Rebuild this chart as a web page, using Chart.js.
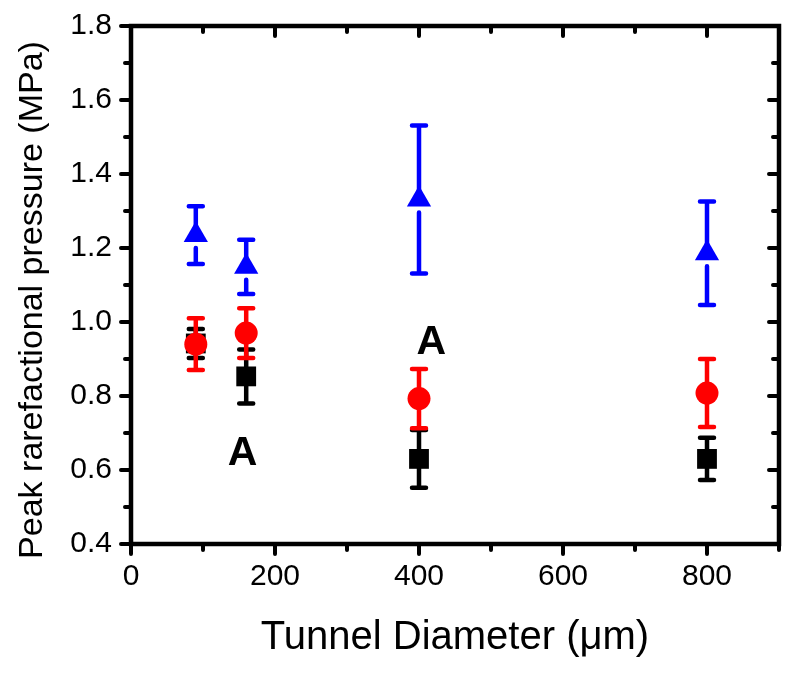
<!DOCTYPE html>
<html><head><meta charset="utf-8">
<script src="https://cdn.jsdelivr.net/npm/chart.js@4.4.1/dist/chart.umd.min.js"></script>
<style>html,body{margin:0;padding:0;background:#fff}canvas{display:block}</style>
</head><body>
<canvas id="c" width="800" height="673"></canvas>
<script>
// ---- data ----
const diameters = [90, 160, 400, 800];
const blueMean  = [1.235, 1.149, 1.331, 1.186];
const blueErr   = [0.078, 0.073, 0.200, 0.140];
const redMean   = [0.940, 0.970, 0.793, 0.808];
const redErr    = [0.070, 0.067, 0.080, 0.092];
const blackMean = [0.942, 0.853, 0.630, 0.630];
const blackErr  = [0.039, 0.073, 0.078, 0.057];
const xTicks = [0, 200, 400, 600, 800];
const xMinor = [100, 300, 500, 700, 900];
const yTicks = [0.4, 0.6, 0.8, 1.0, 1.2, 1.4, 1.6, 1.8];
const yMinor = [0.5, 0.7, 0.9, 1.1, 1.3, 1.5, 1.7];
const annotX = [155, 417];
const annotY = [0.643, 0.945];
const annotText = ['A', 'A'];
const xTitle = 'Tunnel Diameter (\u03bcm)';
const yTitle = 'Peak rarefactional pressure (MPa)';

const FONT = "'Liberation Sans', Arial, sans-serif";
const errs = [blueErr, redErr, blackErr];
const means = [blueMean, redMean, blackMean];

function pts(m) { return diameters.map((d, i) => ({x: d, y: m[i]})); }

const errorBars = {
  id: 'errorBars',
  beforeDatasetDraw(chart, args) {
    const ctx = chart.ctx, ys = chart.scales.y;
    const i = args.index, meta = args.meta;
    const ds = chart.data.datasets[i];
    ctx.save();
    ctx.strokeStyle = ds.borderColor;
    ctx.lineWidth = 4.5;
    ctx.lineCap = 'round';
    meta.data.forEach((el, k) => {
      const x = el.x, y = el.y;
      const top = ys.getPixelForValue(means[i][k] + errs[i][k]);
      const bot = ys.getPixelForValue(means[i][k] - errs[i][k]);
      const gapBelow = ds.pointStyle === 'triangle' ? ds.pointRadius / 2 + 6 : 0;
      ctx.beginPath();
      ctx.moveTo(x, y); ctx.lineTo(x, top);
      ctx.moveTo(x, y + gapBelow); ctx.lineTo(x, bot);
      ctx.moveTo(x - 7, top); ctx.lineTo(x + 7, top);
      ctx.moveTo(x - 7, bot); ctx.lineTo(x + 7, bot);
      ctx.stroke();
    });
    ctx.restore();
  }
};

const frame = {
  id: 'frame',
  afterDraw(chart) {
    const ctx = chart.ctx, a = chart.chartArea, xs = chart.scales.x, ys = chart.scales.y;
    ctx.save();
    ctx.strokeStyle = '#000';
    ctx.lineWidth = 4.5;
    ctx.strokeRect(a.left, a.top, a.right - a.left, a.bottom - a.top);
    ctx.lineWidth = 4;
    ctx.lineCap = 'round';
    ctx.beginPath();
    const tick = (vals, len) => {
      vals.forEach(v => {
        const px = xs.getPixelForValue(v);
        ctx.moveTo(px, a.bottom); ctx.lineTo(px, a.bottom + len);
        ctx.moveTo(px, a.top); ctx.lineTo(px, a.top + len);
      });
    };
    const ticky = (vals, len) => {
      vals.forEach(v => {
        const py = ys.getPixelForValue(v);
        ctx.moveTo(a.left, py); ctx.lineTo(a.left - len, py);
        ctx.moveTo(a.right, py); ctx.lineTo(a.right - len, py);
      });
    };
    tick(xTicks, 10); tick(xMinor, 6);
    ticky(yTicks, 10); ticky(yMinor, 6);
    ctx.stroke();
    ctx.fillStyle = '#000';
    // annotations
    ctx.font = "bold 41px " + FONT;
    ctx.textAlign = 'center';
    ctx.textBaseline = 'middle';
    annotText.forEach((t, k) => {
      ctx.fillText(t, xs.getPixelForValue(annotX[k]), ys.getPixelForValue(annotY[k]));
    });
    // axis titles
    ctx.textBaseline = 'alphabetic';
    ctx.font = "40px " + FONT;
    ctx.fillText(xTitle, (a.left + a.right) / 2, 649);
    ctx.save();
    ctx.translate(42, 300);
    ctx.rotate(-Math.PI / 2);
    ctx.font = "34px " + FONT;
    ctx.fillText(yTitle, 0, 0);
    ctx.restore();
    ctx.restore();
  }
};

new Chart(document.getElementById('c'), {
  type: 'scatter',
  data: {
    datasets: [
      {label: 'blue', data: pts(blueMean), pointStyle: 'triangle', pointRadius: 14,
       backgroundColor: '#0000ff', borderColor: '#0000ff', pointBorderWidth: 0},
      {label: 'red', data: pts(redMean), pointStyle: 'circle', pointRadius: 11.5,
       backgroundColor: '#ff0000', borderColor: '#ff0000', pointBorderWidth: 0},
      {label: 'black', data: pts(blackMean), pointStyle: 'rect', pointRadius: 14,
       backgroundColor: '#000000', borderColor: '#000000', pointBorderWidth: 0}
    ]
  },
  options: {
    responsive: false,
    animation: false,
    events: [],
    layout: {padding: {top: 26, right: 21, left: 0, bottom: 0}},
    plugins: {legend: {display: false}, tooltip: {enabled: false}},
    scales: {
      x: {
        type: 'linear', min: 0, max: 900,
        grid: {display: false, drawTicks: false}, border: {display: false},
        afterBuildTicks: s => { s.ticks = xTicks.map(v => ({value: v})); },
        afterFit: s => { s.height = 129; s.paddingLeft = 0; s.paddingRight = 0; },
        ticks: {color: '#000', padding: 15, font: {family: FONT, size: 30}, maxRotation: 0,
                callback: v => String(v)},
        title: {display: false}
      },
      y: {
        type: 'linear', min: 0.4, max: 1.8,
        grid: {display: false, drawTicks: false}, border: {display: false},
        afterBuildTicks: s => { s.ticks = yTicks.map(v => ({value: v})); },
        afterFit: s => { s.width = 131; s.paddingTop = 0; s.paddingBottom = 0; },
        ticks: {color: '#000', padding: 19, font: {family: FONT, size: 30},
                callback: v => Number(v).toFixed(1)},
        title: {display: false}
      }
    }
  },
  plugins: [errorBars, frame]
});
</script>
</body></html>
